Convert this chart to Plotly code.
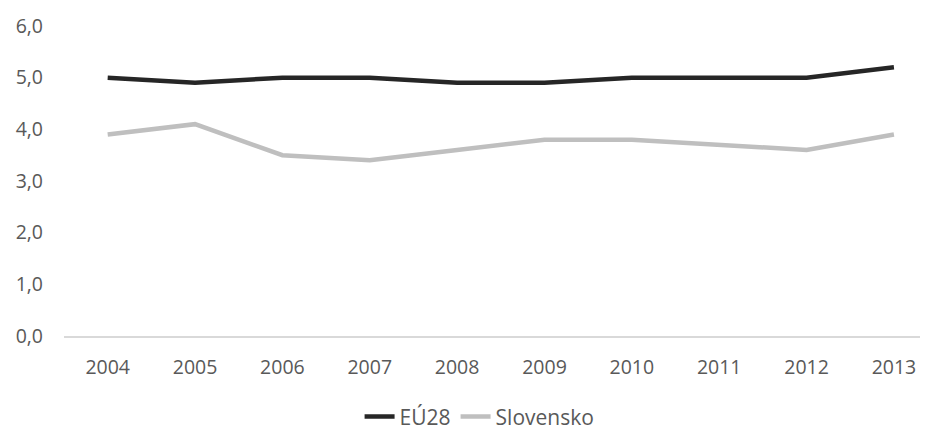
import plotly.graph_objects as go

years = ["2004", "2005", "2006", "2007", "2008", "2009", "2010", "2011", "2012", "2013"]
eu28 = [5.0, 4.9, 5.0, 5.0, 4.9, 4.9, 5.0, 5.0, 5.0, 5.2]
slovensko = [3.9, 4.1, 3.5, 3.4, 3.6, 3.8, 3.8, 3.7, 3.6, 3.9]
y_ticks = [0, 1, 2, 3, 4, 5, 6]
y_labels = ["0,0", "1,0", "2,0", "3,0", "4,0", "5,0", "6,0"]

font_family = "Open Sans"
txt = "#595959"

fig = go.Figure()
fig.add_trace(go.Scatter(x=years, y=eu28, mode="lines", name="EÚ28",
                         line=dict(color="#262626", width=4.5)))
fig.add_trace(go.Scatter(x=years, y=slovensko, mode="lines", name="Slovensko",
                         line=dict(color="#bfbfbf", width=4.5)))

fig.update_layout(
    width=920, height=422,
    margin=dict(l=56, r=0, t=18, b=94, autoexpand=False),
    paper_bgcolor="white", plot_bgcolor="white",
    font=dict(family=font_family, size=19.5, color=txt),
    showlegend=True,
    legend=dict(orientation="h", x=0.481, xanchor="center", y=-0.261, yanchor="middle",
                font=dict(size=21, color=txt), traceorder="normal",
                tracegroupgap=0, itemwidth=30),
    xaxis=dict(type="category", range=[-0.5, 9.39], showgrid=False, automargin=False,
               showline=True, linecolor="#d9d9d9", linewidth=1.5,
               ticks="", ticklabelstandoff=13, zeroline=False),
    yaxis=dict(range=[0, 6], tickvals=y_ticks, ticktext=y_labels, showgrid=False,
               automargin=False,
               showline=False, zeroline=False, ticks="", ticklabelstandoff=20),
)

fig.write_html("out.html")
